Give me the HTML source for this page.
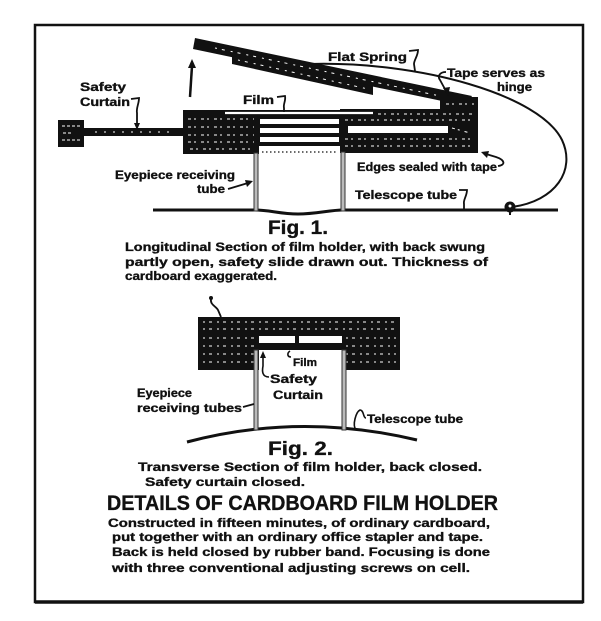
<!DOCTYPE html>
<html>
<head>
<meta charset="utf-8">
<style>
  html,body{margin:0;padding:0;background:#fff;}
  body{width:601px;height:621px;overflow:hidden;}
  svg{display:block;}
  text{font-family:"Liberation Sans",sans-serif;font-weight:bold;fill:#111;stroke:#111;stroke-width:0.35;}
</style>
</head>
<body>
<svg width="601" height="621" viewBox="0 0 601 621" xmlns="http://www.w3.org/2000/svg">
  <rect x="0" y="0" width="601" height="621" fill="#fff"/>
  <!-- frame -->
  <rect x="35" y="25" width="548" height="577" fill="none" stroke="#111" stroke-width="2.5"/>
  <line x1="35" y1="602" x2="583" y2="602" stroke="#111" stroke-width="3.5"/>

  <!-- ============ FIG 1 ============ -->
  <path d="M153,210 L255,210 C270,210 280,214 298,214 C316,214 330,210 343,210 L558,210" fill="none" stroke="#111" stroke-width="3"/>

  <!-- spring curve -->
  <path d="M310,64 C420,61 540,95 562,140 C576,170 556,201 512,207" fill="none" stroke="#111" stroke-width="2"/>
  <circle cx="510" cy="207" r="5.5" fill="#111"/>
  <circle cx="510" cy="206" r="1.5" fill="#fff"/>
  <line x1="510" y1="210" x2="510" y2="215" stroke="#111" stroke-width="2"/>

  <!-- lid -->
  <polygon points="195,38 472,96 466,106 193,49" fill="#111"/>
  <polygon points="232,56 373,86 373,95 232,64" fill="#111"/>
  <g stroke="#fff" stroke-width="1" stroke-dasharray="2 5 3 6">
    <line x1="238" y1="60" x2="368" y2="89"/>
    <line x1="215" y1="48" x2="440" y2="96"/>
  </g>

  <!-- up arrow -->
  <line x1="190" y1="97" x2="192" y2="66" stroke="#111" stroke-width="2.5"/>
  <polygon points="192,59 188,68 196,68" fill="#111"/>

  <!-- safety curtain slide -->
  <rect x="58" y="120" width="26" height="27" fill="#111"/>
  <rect x="84" y="128" width="101" height="8" fill="#111"/>
  <g stroke="#fff" stroke-width="1.1" stroke-dasharray="3 2">
    <line x1="62" y1="126" x2="80" y2="126"/>
    <line x1="63" y1="133" x2="72" y2="133"/>
    <line x1="62" y1="140" x2="80" y2="140"/>
    <line x1="95" y1="132" x2="175" y2="132" stroke-dasharray="2 7"/>
  </g>

  <!-- main holder -->
  <rect x="183" y="110" width="76" height="44" fill="#111"/>
  <rect x="258" y="110" width="84" height="36" fill="#111"/>
  <rect x="340" y="109" width="138" height="44" fill="#111"/>
  <rect x="440" y="97" width="38" height="14" fill="#111"/>
  <rect x="260" y="119" width="79" height="5" fill="#fff"/>
  <rect x="260" y="128" width="79" height="5" fill="#fff"/>
  <rect x="260" y="137" width="79" height="5" fill="#fff"/>
  <rect x="348" y="126" width="100" height="7" fill="#fff"/>
  <line x1="225" y1="113" x2="373" y2="113" stroke="#fff" stroke-width="2.2"/>
  <g stroke="#fff" stroke-width="1" stroke-dasharray="3 3 2 5">
    <line x1="188" y1="119" x2="254" y2="119"/>
    <line x1="188" y1="127" x2="254" y2="127"/>
    <line x1="188" y1="135" x2="254" y2="135"/>
    <line x1="188" y1="142" x2="254" y2="142"/>
    <line x1="190" y1="149" x2="250" y2="149"/>
    <line x1="378" y1="114" x2="474" y2="114"/>
    <line x1="345" y1="120" x2="474" y2="120"/>
    <line x1="345" y1="139" x2="474" y2="139"/>
    <line x1="345" y1="146" x2="474" y2="146"/>
    <line x1="446" y1="104" x2="474" y2="104"/>
    <line x1="452" y1="128" x2="470" y2="133"/>
  </g>
  <line x1="262" y1="152" x2="337" y2="152" stroke="#111" stroke-width="1.3" stroke-dasharray="1.5 2.5"/>
  <rect x="254" y="153" width="4" height="58" fill="#bbb" stroke="#333" stroke-width="1"/>
  <rect x="341" y="152" width="4" height="59" fill="#bbb" stroke="#333" stroke-width="1"/>

  <!-- fig1 labels -->
  <text x="80" y="91" font-size="12" textLength="46" lengthAdjust="spacingAndGlyphs">Safety</text>
  <text x="80" y="106" font-size="12" textLength="50" lengthAdjust="spacingAndGlyphs">Curtain</text>
  <path d="M131,99 L139,98 C139,104 136,108 137,113 L137,126" fill="none" stroke="#111" stroke-width="1.8"/>
  <polygon points="137,130 134,123 140,123" fill="#111"/>

  <text x="243" y="104" font-size="12" textLength="31" lengthAdjust="spacingAndGlyphs">Film</text>
  <path d="M277,97 L285,96 C286,101 283,104 284,108 L284,112" fill="none" stroke="#111" stroke-width="1.8"/>

  <text x="328" y="61" font-size="12" textLength="79" lengthAdjust="spacingAndGlyphs">Flat Spring</text>
  <path d="M409,51 L418,50 C418,56 414,60 414,64 L415,71" fill="none" stroke="#111" stroke-width="1.8"/>

  <text x="447" y="77" font-size="12" textLength="98" lengthAdjust="spacingAndGlyphs">Tape serves as</text>
  <text x="497" y="91" font-size="12" textLength="35" lengthAdjust="spacingAndGlyphs">hinge</text>
  <path d="M446,72 C440,72 437,76 440,80 L446,91" fill="none" stroke="#111" stroke-width="1.8"/>
  <polygon points="448,96 443,88 450,87" fill="#111"/>

  <text x="357" y="171" font-size="12" textLength="140" lengthAdjust="spacingAndGlyphs">Edges sealed with tape</text>
  <path d="M498,166 C506,165 505,160 496,157 L486,154" fill="none" stroke="#111" stroke-width="1.8"/>
  <polygon points="481,152 489,151 487,158" fill="#111"/>

  <text x="355" y="199" font-size="12" textLength="102" lengthAdjust="spacingAndGlyphs">Telescope tube</text>
  <path d="M459,190 L467,190 C467,196 463,200 464,204 L464,210" fill="none" stroke="#111" stroke-width="1.8"/>

  <text x="115" y="179" font-size="12" textLength="120" lengthAdjust="spacingAndGlyphs">Eyepiece receiving</text>
  <text x="197" y="193" font-size="12" textLength="28" lengthAdjust="spacingAndGlyphs">tube</text>
  <line x1="228" y1="189" x2="248" y2="183" stroke="#111" stroke-width="1.8"/>
  <polygon points="253,181 245,180 247,187" fill="#111"/>

  <text x="268" y="234" font-size="19" textLength="60" lengthAdjust="spacingAndGlyphs">Fig. 1.</text>

  <text x="125" y="251" font-size="12" textLength="360" lengthAdjust="spacingAndGlyphs">Longitudinal Section of film holder, with back swung</text>
  <text x="125" y="266" font-size="12" textLength="363" lengthAdjust="spacingAndGlyphs">partly open, safety slide drawn out. Thickness of</text>
  <text x="125" y="280" font-size="12" textLength="152" lengthAdjust="spacingAndGlyphs">cardboard exaggerated.</text>

  <!-- ============ FIG 2 ============ -->
  <path d="M187,442 Q300,412 417,440" fill="none" stroke="#111" stroke-width="3"/>
  <rect x="198" y="317" width="202" height="53" fill="#111"/>
  <rect x="259" y="350" width="83" height="21" fill="#fff"/>
  <rect x="259" y="336" width="36" height="7" fill="#fff"/>
  <rect x="299" y="336" width="43" height="7" fill="#fff"/>
  <g stroke="#fff" stroke-width="1" stroke-dasharray="2 4 3 5">
    <line x1="203" y1="322" x2="396" y2="322"/>
    <line x1="203" y1="329" x2="396" y2="329"/>
    <line x1="203" y1="338" x2="254" y2="338"/>
    <line x1="346" y1="338" x2="396" y2="338"/>
    <line x1="203" y1="346" x2="254" y2="346"/>
    <line x1="346" y1="346" x2="396" y2="346"/>
    <line x1="203" y1="354" x2="254" y2="354"/>
    <line x1="346" y1="354" x2="396" y2="354"/>
    <line x1="203" y1="362" x2="254" y2="362"/>
    <line x1="346" y1="362" x2="396" y2="362"/>
  </g>
  <rect x="254" y="350" width="4" height="80" fill="#bbb" stroke="#333" stroke-width="1"/>
  <rect x="342" y="350" width="4" height="80" fill="#bbb" stroke="#333" stroke-width="1"/>
  <circle cx="211" cy="298" r="2" fill="#111"/>
  <path d="M211,299 C210,305 216,306 218,310 L221,317" fill="none" stroke="#111" stroke-width="1.8"/>

  <path d="M291,357 C287,357 287,353 290,351" fill="none" stroke="#111" stroke-width="1.6"/>
  <text x="293" y="366" font-size="11" textLength="24" lengthAdjust="spacingAndGlyphs">Film</text>
  <text x="270" y="383" font-size="12" textLength="47" lengthAdjust="spacingAndGlyphs">Safety</text>
  <text x="273" y="399" font-size="12" textLength="50" lengthAdjust="spacingAndGlyphs">Curtain</text>
  <path d="M269,377 C262,377 262,371 263,366 L263,356" fill="none" stroke="#111" stroke-width="1.6"/>
  <polygon points="263,351 260,358 266,358" fill="#111"/>

  <text x="137" y="397" font-size="12" textLength="55" lengthAdjust="spacingAndGlyphs">Eyepiece</text>
  <text x="137" y="412" font-size="12" textLength="105" lengthAdjust="spacingAndGlyphs">receiving tubes</text>
  <line x1="243" y1="407" x2="254" y2="404" stroke="#111" stroke-width="1.8"/>

  <text x="367" y="423" font-size="12" textLength="96" lengthAdjust="spacingAndGlyphs">Telescope tube</text>
  <path d="M356,430 C352,425 356,412 360,410 C364,410 363,418 366,418" fill="none" stroke="#111" stroke-width="1.6"/>

  <text x="268" y="455" font-size="19" textLength="65" lengthAdjust="spacingAndGlyphs">Fig. 2.</text>

  <text x="138" y="471" font-size="12" textLength="344" lengthAdjust="spacingAndGlyphs">Transverse Section of film holder, back closed.</text>
  <text x="145" y="486" font-size="12" textLength="160" lengthAdjust="spacingAndGlyphs">Safety curtain closed.</text>

  <!-- ============ TITLE & TEXT ============ -->
  <text x="107" y="510" font-size="21" textLength="391" lengthAdjust="spacingAndGlyphs">DETAILS OF CARDBOARD FILM HOLDER</text>
  <text x="108" y="527" font-size="12" textLength="382" lengthAdjust="spacingAndGlyphs">Constructed in fifteen minutes, of ordinary cardboard,</text>
  <text x="112" y="541" font-size="12" textLength="371" lengthAdjust="spacingAndGlyphs">put together with an ordinary office stapler and tape.</text>
  <text x="112" y="556" font-size="12" textLength="378" lengthAdjust="spacingAndGlyphs">Back is held closed by rubber band. Focusing is done</text>
  <text x="112" y="572" font-size="12" textLength="358" lengthAdjust="spacingAndGlyphs">with three conventional adjusting screws on cell.</text>
</svg>
</body>
</html>
